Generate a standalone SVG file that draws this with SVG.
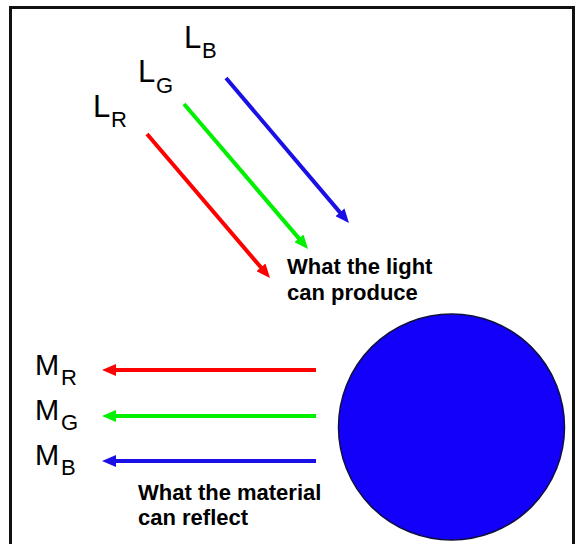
<svg xmlns="http://www.w3.org/2000/svg" width="578" height="544" viewBox="0 0 578 544">
<style>
.lbl{font-family:"Liberation Sans",Arial,sans-serif;fill:#000}
.cap{font-family:"Liberation Sans",Arial,sans-serif;font-weight:bold;font-size:22px;fill:#000}
.ar{stroke-width:4;fill:none}
</style>
<defs>
<marker id="hr" markerUnits="userSpaceOnUse" markerWidth="14" markerHeight="12" refX="4" refY="6" orient="auto"><path d="M0,0 L14,6 L0,12 z" fill="#ff0000"/></marker>
<marker id="hg" markerUnits="userSpaceOnUse" markerWidth="14" markerHeight="12" refX="4" refY="6" orient="auto"><path d="M0,0 L14,6 L0,12 z" fill="#00f000"/></marker>
<marker id="hb" markerUnits="userSpaceOnUse" markerWidth="14" markerHeight="12" refX="4" refY="6" orient="auto"><path d="M0,0 L14,6 L0,12 z" fill="#1a10e6"/></marker>
</defs>
<rect x="0" y="0" width="578" height="544" fill="#fff"/>
<rect x="10.5" y="7.5" width="563" height="560" fill="none" stroke="#111" stroke-width="3"/>
<g id="connectors">
<line class="ar" x1="147" y1="134" x2="263.5" y2="270.4" stroke="#ff0000" marker-end="url(#hr)"/>
<line class="ar" x1="184" y1="104" x2="301.5" y2="241.4" stroke="#00f000" marker-end="url(#hg)"/>
<line class="ar" x1="226" y1="78" x2="342.5" y2="215.4" stroke="#1a10e6" marker-end="url(#hb)"/>
<line class="ar" x1="316" y1="370" x2="112" y2="370" stroke="#ff0000" marker-end="url(#hr)"/>
<line class="ar" x1="316" y1="416" x2="112" y2="416" stroke="#00f000" marker-end="url(#hg)"/>
<line class="ar" x1="316" y1="461" x2="112" y2="461" stroke="#1a10e6" marker-end="url(#hb)"/>
</g>
<g id="material">
<circle cx="451.5" cy="427" r="113" fill="#1200f8" stroke="#101040" stroke-width="1.5"/>
</g>
<g id="LB"><text class="lbl" x="184" y="48" font-size="31">L</text><text class="lbl" x="202" y="58" font-size="22">B</text></g>
<g id="LG"><text class="lbl" x="138" y="82" font-size="31">L</text><text class="lbl" x="156" y="93" font-size="22">G</text></g>
<g id="LR"><text class="lbl" x="93" y="117" font-size="31">L</text><text class="lbl" x="111" y="127" font-size="22">R</text></g>
<g id="MR"><text class="lbl" x="35" y="375" font-size="29">M</text><text class="lbl" x="61" y="385" font-size="22">R</text></g>
<g id="MG"><text class="lbl" x="35" y="420" font-size="29">M</text><text class="lbl" x="61" y="430" font-size="22">G</text></g>
<g id="MB"><text class="lbl" x="35" y="465" font-size="29">M</text><text class="lbl" x="61" y="475" font-size="22">B</text></g>
<g id="light-caption"><text class="cap" x="287" y="274">What the light</text><text class="cap" x="287" y="300">can produce</text></g>
<g id="material-caption"><text class="cap" x="138" y="500">What the material</text><text class="cap" x="138" y="525">can reflect</text></g>
</svg>
